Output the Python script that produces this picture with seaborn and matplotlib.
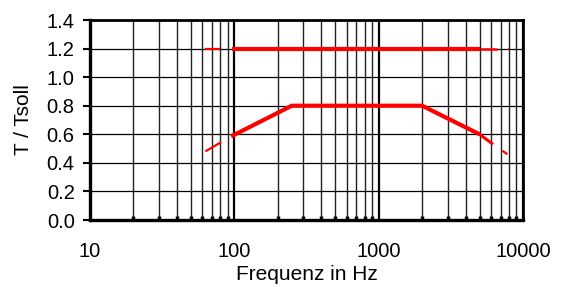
import numpy as np
import pandas as pd
import matplotlib
matplotlib.use("Agg")
import matplotlib.pyplot as plt
import seaborn as sns
from matplotlib.ticker import FixedLocator, NullFormatter

# Data
upper_dash_left_x = [63, 80]
upper_dash_left_y = [1.2, 1.2]
upper_thick_x = [96, 5000]
upper_thick_y = [1.2, 1.2]
upper_mid_x = [5000, 6600]
upper_mid_y = [1.2, 1.2]
upper_tick_x = [7850, 7950]
upper_tick_y = [1.2, 1.2]

lower_dash_left_x = [63, 81]
lower_dash_left_y = [0.48, 0.545]
lower_thick_x = [95, 250, 2000, 5000]
lower_thick_y = [0.585, 0.8, 0.8, 0.6]
lower_mid_x = [5000, 6200]
lower_mid_y = [0.6, 0.53]
lower_dash_right_x = [7200, 7800]
lower_dash_right_y = [0.485, 0.46]

x_ticks = [10, 100, 1000, 10000]
x_tick_labels = ["10", "100", "1000", "10000"]
y_ticks = [0.0, 0.2, 0.4, 0.6, 0.8, 1.0, 1.2, 1.4]
y_tick_labels = ["0.0", "0.2", "0.4", "0.6", "0.8", "1.0", "1.2", "1.4"]

sns.set_style("white")
plt.rcParams['font.family'] = ['Liberation Sans', 'DejaVu Sans']
plt.rcParams['text.color'] = 'black'
plt.rcParams['axes.labelcolor'] = 'black'
plt.rcParams['xtick.color'] = 'black'
plt.rcParams['ytick.color'] = 'black'

fig = plt.figure(figsize=(5.62, 2.87), dpi=100)
ax = fig.add_axes([90/562, 1-220/287, (523-90)/562, 200/287])

segments = [
    (upper_dash_left_x, upper_dash_left_y, 1.6),
    (upper_thick_x, upper_thick_y, 3.0),
    (upper_mid_x, upper_mid_y, 1.8),
    (upper_tick_x, upper_tick_y, 1.2),
    (lower_dash_left_x, lower_dash_left_y, 1.6),
    (lower_thick_x, lower_thick_y, 3.0),
    (lower_mid_x, lower_mid_y, 2.2),
    (lower_dash_right_x, lower_dash_right_y, 1.6),
]
for xs, ys, lw in segments:
    df = pd.DataFrame({"f": xs, "t": ys})
    sns.lineplot(data=df, x="f", y="t", ax=ax, color="#ff0000", linewidth=lw,
                 sort=False, estimator=None, zorder=5, solid_capstyle="butt")

ax.set_xscale("log")
ax.set_xlim(10, 10000)
ax.set_ylim(0, 1.4)

ax.set_xticks(x_ticks)
ax.set_xticklabels(x_tick_labels)
minor = [m * d for d in [10, 100, 1000] for m in range(2, 10)]
ax.xaxis.set_minor_locator(FixedLocator(minor))
ax.xaxis.set_minor_formatter(NullFormatter())
ax.set_yticks(y_ticks)
ax.set_yticklabels(y_tick_labels)

ax.grid(True, which="major", axis="x", color="black", linewidth=1.6)
ax.grid(True, which="minor", axis="x", color="#222222", linewidth=1.0)
ax.grid(True, which="major", axis="y", color="black", linewidth=0.9)

ax.tick_params(axis="x", which="major", length=0, pad=16, labelsize=14.5, labelcolor="black")
ax.tick_params(axis="x", which="minor", direction="in", length=3, width=2.5, color="black", bottom=True)
ax.tick_params(axis="y", which="major", direction="out", length=5, width=1.5, color="black", pad=6, labelsize=14.5, left=True, labelcolor="black")

for side in ["left", "bottom"]:
    ax.spines[side].set_linewidth(2.4)
    ax.spines[side].set_color("black")
for side in ["top", "right"]:
    ax.spines[side].set_linewidth(2.0)
    ax.spines[side].set_color("black")
    ax.spines[side].set_visible(True)

ax.set_xlabel("Frequenz in Hz", fontsize=15, labelpad=3, color="black")
ax.set_ylabel("T / Tsoll", fontsize=15, labelpad=10, color="black")

fig.savefig("out.png", dpi=100)
